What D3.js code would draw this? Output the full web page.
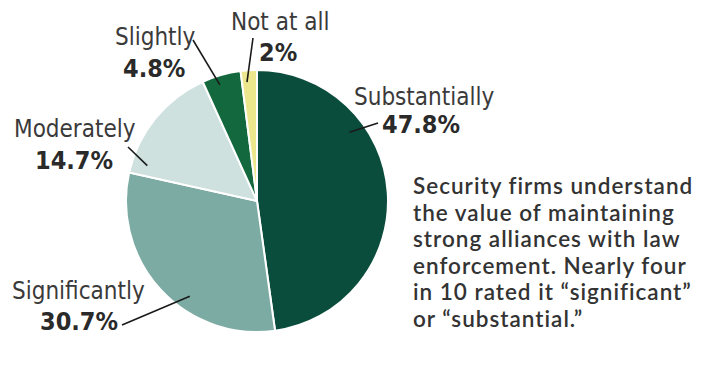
<!DOCTYPE html>
<html>
<head>
<meta charset="utf-8">
<script src="https://cdn.jsdelivr.net/npm/d3@7"></script>
<style>
  body { margin: 0; background: #fff; }
  svg { display: block; }
</style>
</head>
<body>
<svg id="pieChart"></svg>
<script>
// survey answers, clockwise from 12 o'clock
const categories = ["Substantially", "Significantly", "Moderately", "Slightly", "Not at all"];
const shares = [47.8, 30.7, 14.7, 4.8, 2];
const shareLabels = ["47.8%", "30.7%", "14.7%", "4.8%", "2%"];
const noteLines = [
  "Security firms understand",
  "the value of maintaining",
  "strong alliances with law",
  "enforcement. Nearly four",
  "in 10 rated it \u201csignificant\u201d",
  "or \u201csubstantial.\u201d"
];

const width = 703, height = 370;
const cx = 257, cy = 201, radius = 131;

const color = d3.scaleOrdinal()
    .domain(categories)
    .range(["#0b4d3c", "#7caba4", "#cfe1de", "#13693d", "#ece78c"]);

// where each label sits and where its leader line touches the slice
const labelLayout = {
  "Substantially": { x: 354, y: 105, px: 382, py: 133, lx: 378, ly: 123, t: 0.31, k: 0.88 },
  "Significantly": { x: 12,  y: 299, px: 40,  py: 330, lx: 122, ly: 325, t: 0.39, k: 0.89 },
  "Moderately":    { x: 14,  y: 137, px: 35,  py: 169, lx: 128, ly: 147, t: 0.10, k: 0.88 },
  "Slightly":      { x: 115, y: 45,  px: 123, py: 77,  lx: 193, ly: 40,  t: 0.39, k: 0.93 },
  "Not at all":    { x: 231, y: 30,  px: 259, py: 61,  lx: 253, ly: 38,  t: 0.33, k: 0.91 }
};

const pie = d3.pie().sort(null).value(d => d.value);
const arc = d3.arc().innerRadius(0).outerRadius(radius);

const data = categories.map((c, i) => ({ name: c, value: shares[i], label: shareLabels[i] }));

const svg = d3.select("#pieChart")
    .attr("width", width)
    .attr("height", height);

const g = svg.append("g")
    .attr("transform", `translate(${cx},${cy})`);

const slices = pie(data);

g.selectAll(".slice")
  .data(slices)
  .enter().append("path")
    .attr("class", "slice")
    .attr("d", arc)
    .attr("fill", d => color(d.data.name))
    .attr("stroke", "#fff")
    .attr("stroke-width", 2)
    .attr("stroke-linejoin", "round");

// leader lines
slices.forEach(d => {
  const L = labelLayout[d.data.name];
  const a = d.startAngle + L.t * (d.endAngle - d.startAngle);
  const ix = cx + Math.sin(a) * radius * L.k;
  const iy = cy - Math.cos(a) * radius * L.k;
  svg.append("line")
    .attr("x1", ix).attr("y1", iy)
    .attr("x2", L.lx).attr("y2", L.ly)
    .attr("stroke", "#1a1a1a")
    .attr("stroke-width", 1.6);
});

const labelFont = "'Liberation Sans Narrow', 'Arial Narrow', 'DejaVu Sans Condensed', sans-serif";

const labels = svg.selectAll(".lbl")
  .data(slices)
  .enter().append("g")
    .attr("class", "lbl");

labels.append("text")
    .attr("x", d => labelLayout[d.data.name].x)
    .attr("y", d => labelLayout[d.data.name].y)
    .attr("font-family", labelFont)
    .attr("font-size", 24)
    .attr("fill", "#3a3a3a")
    .text(d => d.data.name);

labels.append("text")
    .attr("x", d => labelLayout[d.data.name].px)
    .attr("y", d => labelLayout[d.data.name].py)
    .attr("font-family", labelFont)
    .attr("font-size", 25)
    .attr("font-weight", "bold")
    .attr("fill", "#2a2a2a")
    .text(d => d.data.label);

// side note
svg.append("g")
  .selectAll("text")
  .data(noteLines)
  .enter().append("text")
    .attr("x", 413)
    .attr("y", (d, i) => 194 + i * 26.6)
    .attr("font-family", "Lato, 'Open Sans', sans-serif")
    .attr("font-size", 22.5)
    .attr("letter-spacing", 1)
    .attr("font-weight", 600)
    .attr("fill", "#333")
    .text(d => d);
</script>
</body>
</html>
